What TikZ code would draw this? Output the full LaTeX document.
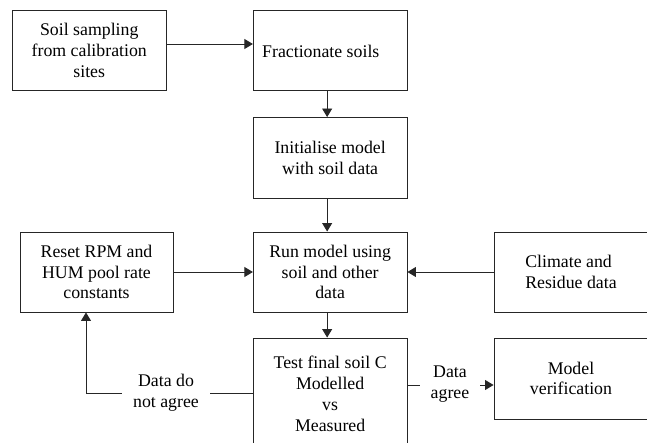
\documentclass[tikz,border=0pt]{standalone}
\usepackage{fontspec}
\setmainfont{Liberation Serif}
\newfontfamily\tnr{Liberation Serif}
\usetikzlibrary{arrows.meta,calc}
\begin{document}
\begin{tikzpicture}[x=1pt,y=-1pt,
  box/.style={draw=black!85,line width=0.9pt,inner sep=0pt,align=center,
    font=\tnr\fontsize{17.8}{20.8}\selectfont},
  arr/.style={line width=0.9pt,draw=black!85,-{Triangle[length=8.5pt,width=10pt]}},
  lbl/.style={fill=white,inner sep=0pt,align=center,
    font=\tnr\fontsize{17.8}{20.8}\selectfont}]
\useasboundingbox (0,0) rectangle (647,443);
\clip (0,0) rectangle (647,443);
\node[box,minimum width=153.5pt,minimum height=80pt] (A) at (89.25,50.5) {Soil sampling\\from calibration\\sites};
\node[box,minimum width=153.7pt,minimum height=80pt] (B) at (330.15,50.5) {};
\node[font=\tnr\fontsize{17.8}{20.8}\selectfont,anchor=west,inner sep=0pt] (Bt) at (262,51.5) {Fractionate soils};
\node[box,minimum width=153.7pt,minimum height=80.5pt] (C) at (330.15,157.75) {Initialise model\\with soil data};
\node[box,minimum width=153pt,minimum height=80pt] (R) at (96.5,272) {Reset RPM and\\HUM pool rate\\constants};
\node[box,minimum width=153.7pt,minimum height=80pt] (Run) at (330.15,272) {Run model using\\soil and other\\data};
\node[box,align=left,minimum width=154pt,minimum height=80pt] (Cl) at (571,272) {Climate and\\Residue data};
\node[box,minimum width=153.7pt,minimum height=112pt] (T) at (330.15,394) {Test final soil C\\Modelled\\vs\\Measured};
\node[box,minimum width=154pt,minimum height=81pt] (M) at (571,378.5) {Model\\verification};

\draw[arr] ([yshift=6.5pt]A.east) -- ([yshift=6.5pt]B.west);
\draw[arr] ([xshift=-3pt]B.south) -- ([xshift=-3pt]C.north);
\draw[arr] ([xshift=-3pt]C.south) -- ([xshift=-3pt]Run.north);
\draw[arr] ([xshift=-3pt]Run.south) -- ([xshift=-3pt]T.north);
\draw[arr] (R.east) -- (Run.west);
\draw[arr] (Cl.west) -- (Run.east);

\coordinate (tl) at ([yshift=1pt]T.west);
\coordinate (rs) at ([xshift=-10.5pt]R.south);
\draw[arr] (tl) -| (rs);
\node[lbl,minimum width=88pt,minimum height=44pt] (dna) at (166,393) {Data do\\not agree};

\coordinate (tr) at ([yshift=9pt]T.east);
\draw[arr] (tr) -- (tr -| M.west);
\node[lbl,minimum width=60pt,minimum height=44pt] (da) at (450,384) {Data\\agree};
\end{tikzpicture}
\end{document}
